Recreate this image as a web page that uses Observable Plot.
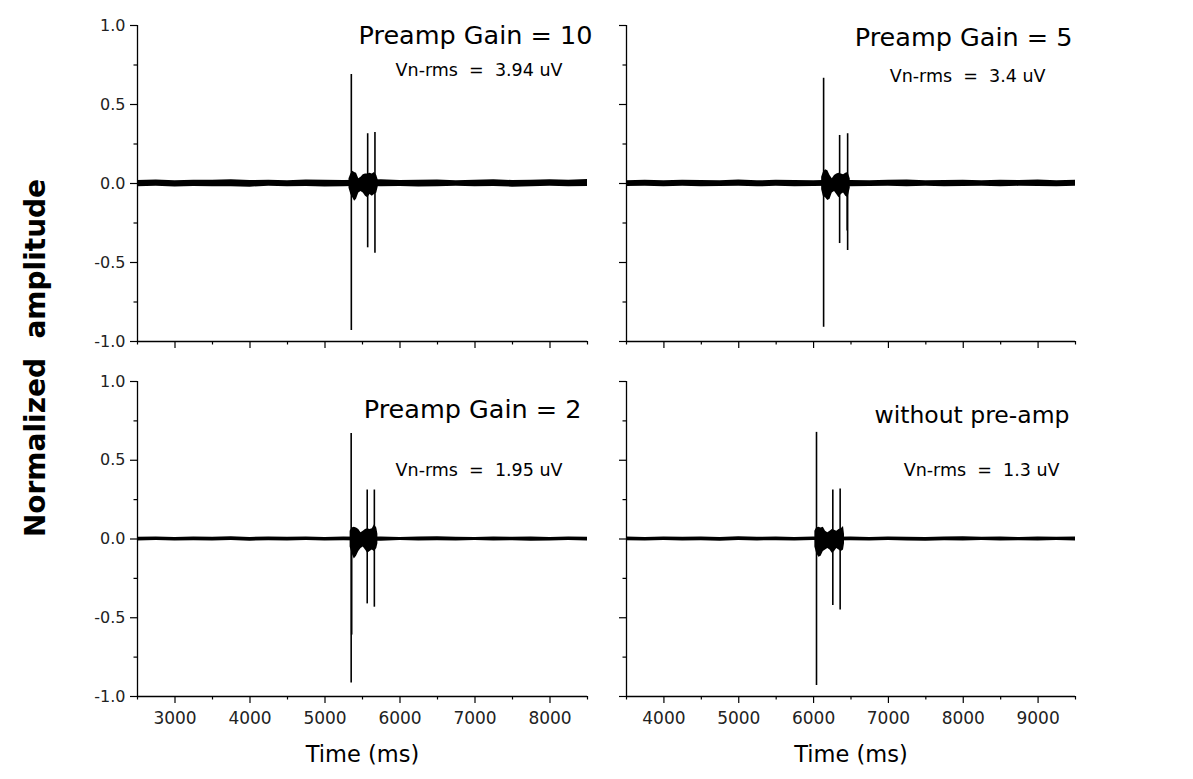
<!DOCTYPE html>
<html>
<head>
<meta charset="utf-8">
<script src="https://cdn.jsdelivr.net/npm/d3@7"></script>
<script src="https://cdn.jsdelivr.net/npm/@observablehq/plot@0.6"></script>
<style>
  body { margin: 0; background: #fff; }
  #chart { position: relative; width: 1193px; height: 779px; overflow: hidden; background: #fff; }
  #ylab { position: absolute; left: 35px; top: 358px; transform: translate(-50%, -50%) rotate(-90deg);
          font: bold 28px "DejaVu Sans"; white-space: pre; color: #000; }
</style>
</head>
<body>
<div id="chart"><div id="ylab">Normalized  amplitude</div></div>
<script>
// ---------- panel text ----------
const titles = ["Preamp Gain = 10", "Preamp Gain = 5", "Preamp Gain = 2", "without pre-amp"];
const notes  = ["Vn-rms  =  3.94 uV", "Vn-rms  =  3.4 uV", "Vn-rms  =  1.95 uV", "Vn-rms  =  1.3 uV"];
const xTitle = "Time (ms)";

// ---------- axes ----------
const xDomainLeft  = [2500, 8500];
const xDomainRight = [3500, 9500];
const xMajorLeft  = [3000, 4000, 5000, 6000, 7000, 8000];
const xMinorLeft  = [2500, 3500, 4500, 5500, 6500, 7500, 8500];
const xMajorRight = [4000, 5000, 6000, 7000, 8000, 9000];
const xMinorRight = [3500, 4500, 5500, 6500, 7500, 8500, 9500];
const yMajor = [-1.0, -0.5, 0.0, 0.5, 1.0];
const yMinor = [-0.75, -0.25, 0.25, 0.75];

// ---------- baseline noise envelope (sampled every 250 ms) ----------
const tLeft  = [2500,2750,3000,3250,3500,3750,4000,4250,4500,4750,5000,5250,5500,5750,6000,6250,6500,6750,7000,7250,7500,7750,8000,8250,8500];
const tRight = [3500,3750,4000,4250,4500,4750,5000,5250,5500,5750,6000,6250,6500,6750,7000,7250,7500,7750,8000,8250,8500,8750,9000,9250,9500];

const g10Hi = [0.019,0.022,0.018,0.021,0.020,0.023,0.019,0.021,0.018,0.022,0.020,0.019,0.021,0.023,0.019,0.021,0.022,0.018,0.020,0.024,0.019,0.021,0.023,0.020,0.025];
const g10Lo = [-0.021,-0.018,-0.022,-0.019,-0.021,-0.020,-0.023,-0.018,-0.021,-0.019,-0.022,-0.020,-0.018,-0.021,-0.019,-0.022,-0.020,-0.018,-0.021,-0.019,-0.023,-0.020,-0.018,-0.021,-0.019];
const g5Hi  = [0.018,0.020,0.017,0.021,0.019,0.018,0.022,0.017,0.020,0.019,0.018,0.021,0.019,0.017,0.020,0.022,0.018,0.019,0.021,0.017,0.020,0.019,0.022,0.018,0.020];
const g5Lo  = [-0.019,-0.017,-0.021,-0.018,-0.020,-0.019,-0.017,-0.021,-0.018,-0.020,-0.019,-0.018,-0.021,-0.019,-0.017,-0.020,-0.018,-0.021,-0.019,-0.017,-0.020,-0.018,-0.019,-0.021,-0.018];
const g2Hi  = [0.011,0.013,0.010,0.012,0.011,0.014,0.010,0.012,0.011,0.013,0.010,0.012,0.011,0.013,0.010,0.012,0.014,0.011,0.010,0.013,0.011,0.012,0.010,0.013,0.011];
const g2Lo  = [-0.012,-0.010,-0.013,-0.011,-0.012,-0.010,-0.014,-0.011,-0.012,-0.010,-0.013,-0.011,-0.012,-0.014,-0.010,-0.012,-0.011,-0.013,-0.010,-0.012,-0.011,-0.014,-0.012,-0.010,-0.013];
const g0Hi  = [0.012,0.010,0.013,0.011,0.012,0.010,0.014,0.011,0.012,0.010,0.013,0.011,0.012,0.010,0.013,0.011,0.010,0.012,0.014,0.011,0.012,0.010,0.013,0.011,0.012];
const g0Lo  = [-0.011,-0.013,-0.010,-0.012,-0.011,-0.014,-0.010,-0.012,-0.011,-0.013,-0.010,-0.012,-0.011,-0.013,-0.010,-0.012,-0.014,-0.011,-0.012,-0.010,-0.013,-0.011,-0.012,-0.010,-0.013];

// ---------- burst envelopes ----------
const g10BurstT  = [5320,5345,5370,5395,5420,5450,5480,5510,5540,5570,5600,5630,5660,5690,5710];
const g10BurstHi = [0.030,0.060,0.078,0.070,0.065,0.030,0.040,0.055,0.060,0.060,0.065,0.060,0.070,0.050,0.020];
const g10BurstLo = [-0.030,-0.070,-0.090,-0.112,-0.100,-0.060,-0.050,-0.060,-0.080,-0.090,-0.070,-0.080,-0.070,-0.060,-0.020];
const g5BurstT   = [6108,6130,6160,6190,6220,6250,6280,6310,6340,6370,6400,6430,6460,6490];
const g5BurstHi  = [0.040,0.070,0.087,0.080,0.050,0.030,0.050,0.060,0.065,0.060,0.055,0.065,0.070,0.030];
const g5BurstLo  = [-0.040,-0.080,-0.090,-0.108,-0.100,-0.060,-0.050,-0.070,-0.090,-0.070,-0.060,-0.080,-0.090,-0.030];
const g2BurstT   = [5335,5360,5390,5420,5450,5480,5510,5540,5570,5600,5630,5660,5690,5705];
const g2BurstHi  = [0.050,0.070,0.075,0.070,0.060,0.040,0.050,0.060,0.065,0.060,0.065,0.090,0.070,0.030];
const g2BurstLo  = [-0.050,-0.090,-0.127,-0.110,-0.080,-0.060,-0.050,-0.070,-0.090,-0.080,-0.070,-0.080,-0.060,-0.030];
const g0BurstT   = [6017,6040,6070,6100,6130,6160,6190,6220,6250,6280,6310,6340,6370,6400,6413];
const g0BurstHi  = [0.050,0.070,0.075,0.070,0.075,0.050,0.040,0.050,0.060,0.055,0.050,0.060,0.065,0.080,0.030];
const g0BurstLo  = [-0.050,-0.090,-0.116,-0.110,-0.080,-0.070,-0.060,-0.070,-0.090,-0.080,-0.060,-0.070,-0.080,-0.070,-0.030];

// ---------- spikes ----------
const g10SpikeT  = [5351, 5569, 5666];
const g10SpikeHi = [0.69, 0.315, 0.323];
const g10SpikeLo = [-0.93, -0.407, -0.441];
const g5SpikeT   = [6134, 6348, 6455, 6449];
const g5SpikeHi  = [0.666, 0.304, 0.315, 0.0];
const g5SpikeLo  = [-0.91, -0.38, -0.424, -0.30];
const g2SpikeT   = [5349, 5563, 5658, 5356];
const g2SpikeHi  = [0.67, 0.311, 0.311, 0.0];
const g2SpikeLo  = [-0.915, -0.412, -0.433, -0.61];
const g0SpikeT   = [6039, 6257, 6355];
const g0SpikeHi  = [0.677, 0.311, 0.317];
const g0SpikeLo  = [-0.93, -0.423, -0.45];

// ---------- build ----------
const rows = (t, hi, lo) => t.map((v, i) => ({t: v, hi: hi[i], lo: lo[i]}));

function panel(cfg) {
  const {title, note, domain, xMajor, xMinor, showX, showY, base, burst, spikes,
         left, top, width, height, margin, titleOff, noteOff, titleSize} = cfg;
  const svg = Plot.plot({
    width, height,
    marginLeft: margin[3], marginRight: margin[1], marginTop: margin[0], marginBottom: margin[2],
    style: {fontFamily: "DejaVu Sans", background: "transparent", color: "#000", overflow: "visible"},
    x: {domain, type: "linear"},
    y: {domain: [-1, 1], type: "linear"},
    marks: [
      Plot.areaY(base, {x: "t", y1: "lo", y2: "hi", fill: "#000", curve: "linear"}),
      Plot.areaY(burst, {x: "t", y1: "lo", y2: "hi", fill: "#000", curve: "linear"}),
      Plot.ruleX(spikes, {x: "t", y1: "lo", y2: "hi", stroke: "#000", strokeWidth: 1.6}),
      Plot.ruleX([domain[0]], {stroke: "#000", strokeWidth: 1.3}),
      Plot.ruleY([-1], {stroke: "#000", strokeWidth: 1.3}),
      Plot.axisY(yMajor, {anchor: "left", tickSize: 7, tickPadding: 5, fontSize: 16, strokeWidth: 1.2,
        fill: "#222", label: null, tickFormat: showY ? (d => d.toFixed(1)) : (() => "")}),
      Plot.axisY(yMinor, {anchor: "left", tickSize: 3.5, strokeWidth: 1.2, label: null, tickFormat: () => ""}),
      Plot.axisX(xMajor, {anchor: "bottom", tickSize: 7, tickPadding: 8, fontSize: 17, strokeWidth: 1.2,
        fill: "#222", label: null, tickFormat: showX ? (d => String(d)) : (() => "")}),
      Plot.axisX(xMinor, {anchor: "bottom", tickSize: 3.5, strokeWidth: 1.2, label: null, tickFormat: () => ""}),
      Plot.text([title], {text: d => d, frameAnchor: "top-right", textAnchor: "end", lineAnchor: "bottom",
        dx: titleOff[0], dy: titleOff[1], fontSize: titleSize, fill: "#000"}),
      Plot.text([note], {text: d => d, frameAnchor: "top-right", textAnchor: "end", lineAnchor: "bottom",
        dx: noteOff[0], dy: noteOff[1], fontSize: 17.5, fill: "#000"}),
      showX ? Plot.text([xTitle], {text: d => d, frameAnchor: "bottom", lineAnchor: "bottom", dy: 65,
        fontSize: 22.5, fill: "#000"}) : null
    ]
  });
  svg.style.position = "absolute";
  svg.style.left = left + "px";
  svg.style.top = top + "px";
  svg.querySelectorAll("text").forEach(t => { t.setAttribute("xml:space", "preserve"); t.style.whiteSpace = "pre"; });
  document.getElementById("chart").appendChild(svg);
}

panel({title: titles[0], note: notes[0], domain: xDomainLeft, xMajor: xMajorLeft, xMinor: xMinorLeft,
  showX: false, showY: true, base: rows(tLeft, g10Hi, g10Lo), burst: rows(g10BurstT, g10BurstHi, g10BurstLo),
  spikes: rows(g10SpikeT, g10SpikeHi, g10SpikeLo),
  left: 0, top: 0, width: 605, height: 362, margin: [25, 18, 21, 137], titleOff: [5, 18], noteOff: [-25, 50], titleSize: 25.5});

panel({title: titles[1], note: notes[1], domain: xDomainRight, xMajor: xMajorRight, xMinor: xMinorRight,
  showX: false, showY: false, base: rows(tRight, g5Hi, g5Lo), burst: rows(g5BurstT, g5BurstHi, g5BurstLo),
  spikes: rows(g5SpikeT, g5SpikeHi, g5SpikeLo),
  left: 605, top: 0, width: 588, height: 362, margin: [25, 118, 21, 21], titleOff: [-3, 20], noteOff: [-30, 56], titleSize: 25.5});

panel({title: titles[2], note: notes[2], domain: xDomainLeft, xMajor: xMajorLeft, xMinor: xMinorLeft,
  showX: true, showY: true, base: rows(tLeft, g2Hi, g2Lo), burst: rows(g2BurstT, g2BurstHi, g2BurstLo),
  spikes: rows(g2SpikeT, g2SpikeHi, g2SpikeLo),
  left: 0, top: 362, width: 605, height: 417, margin: [19, 18, 83, 137], titleOff: [-6, 36], noteOff: [-25, 94], titleSize: 25.5});

panel({title: titles[3], note: notes[3], domain: xDomainRight, xMajor: xMajorRight, xMinor: xMinorRight,
  showX: true, showY: false, base: rows(tRight, g0Hi, g0Lo), burst: rows(g0BurstT, g0BurstHi, g0BurstLo),
  spikes: rows(g0SpikeT, g0SpikeHi, g0SpikeLo),
  left: 605, top: 362, width: 588, height: 417, margin: [19, 118, 83, 21], titleOff: [-6, 41], noteOff: [-16, 94], titleSize: 23.5});
</script>
</body>
</html>
